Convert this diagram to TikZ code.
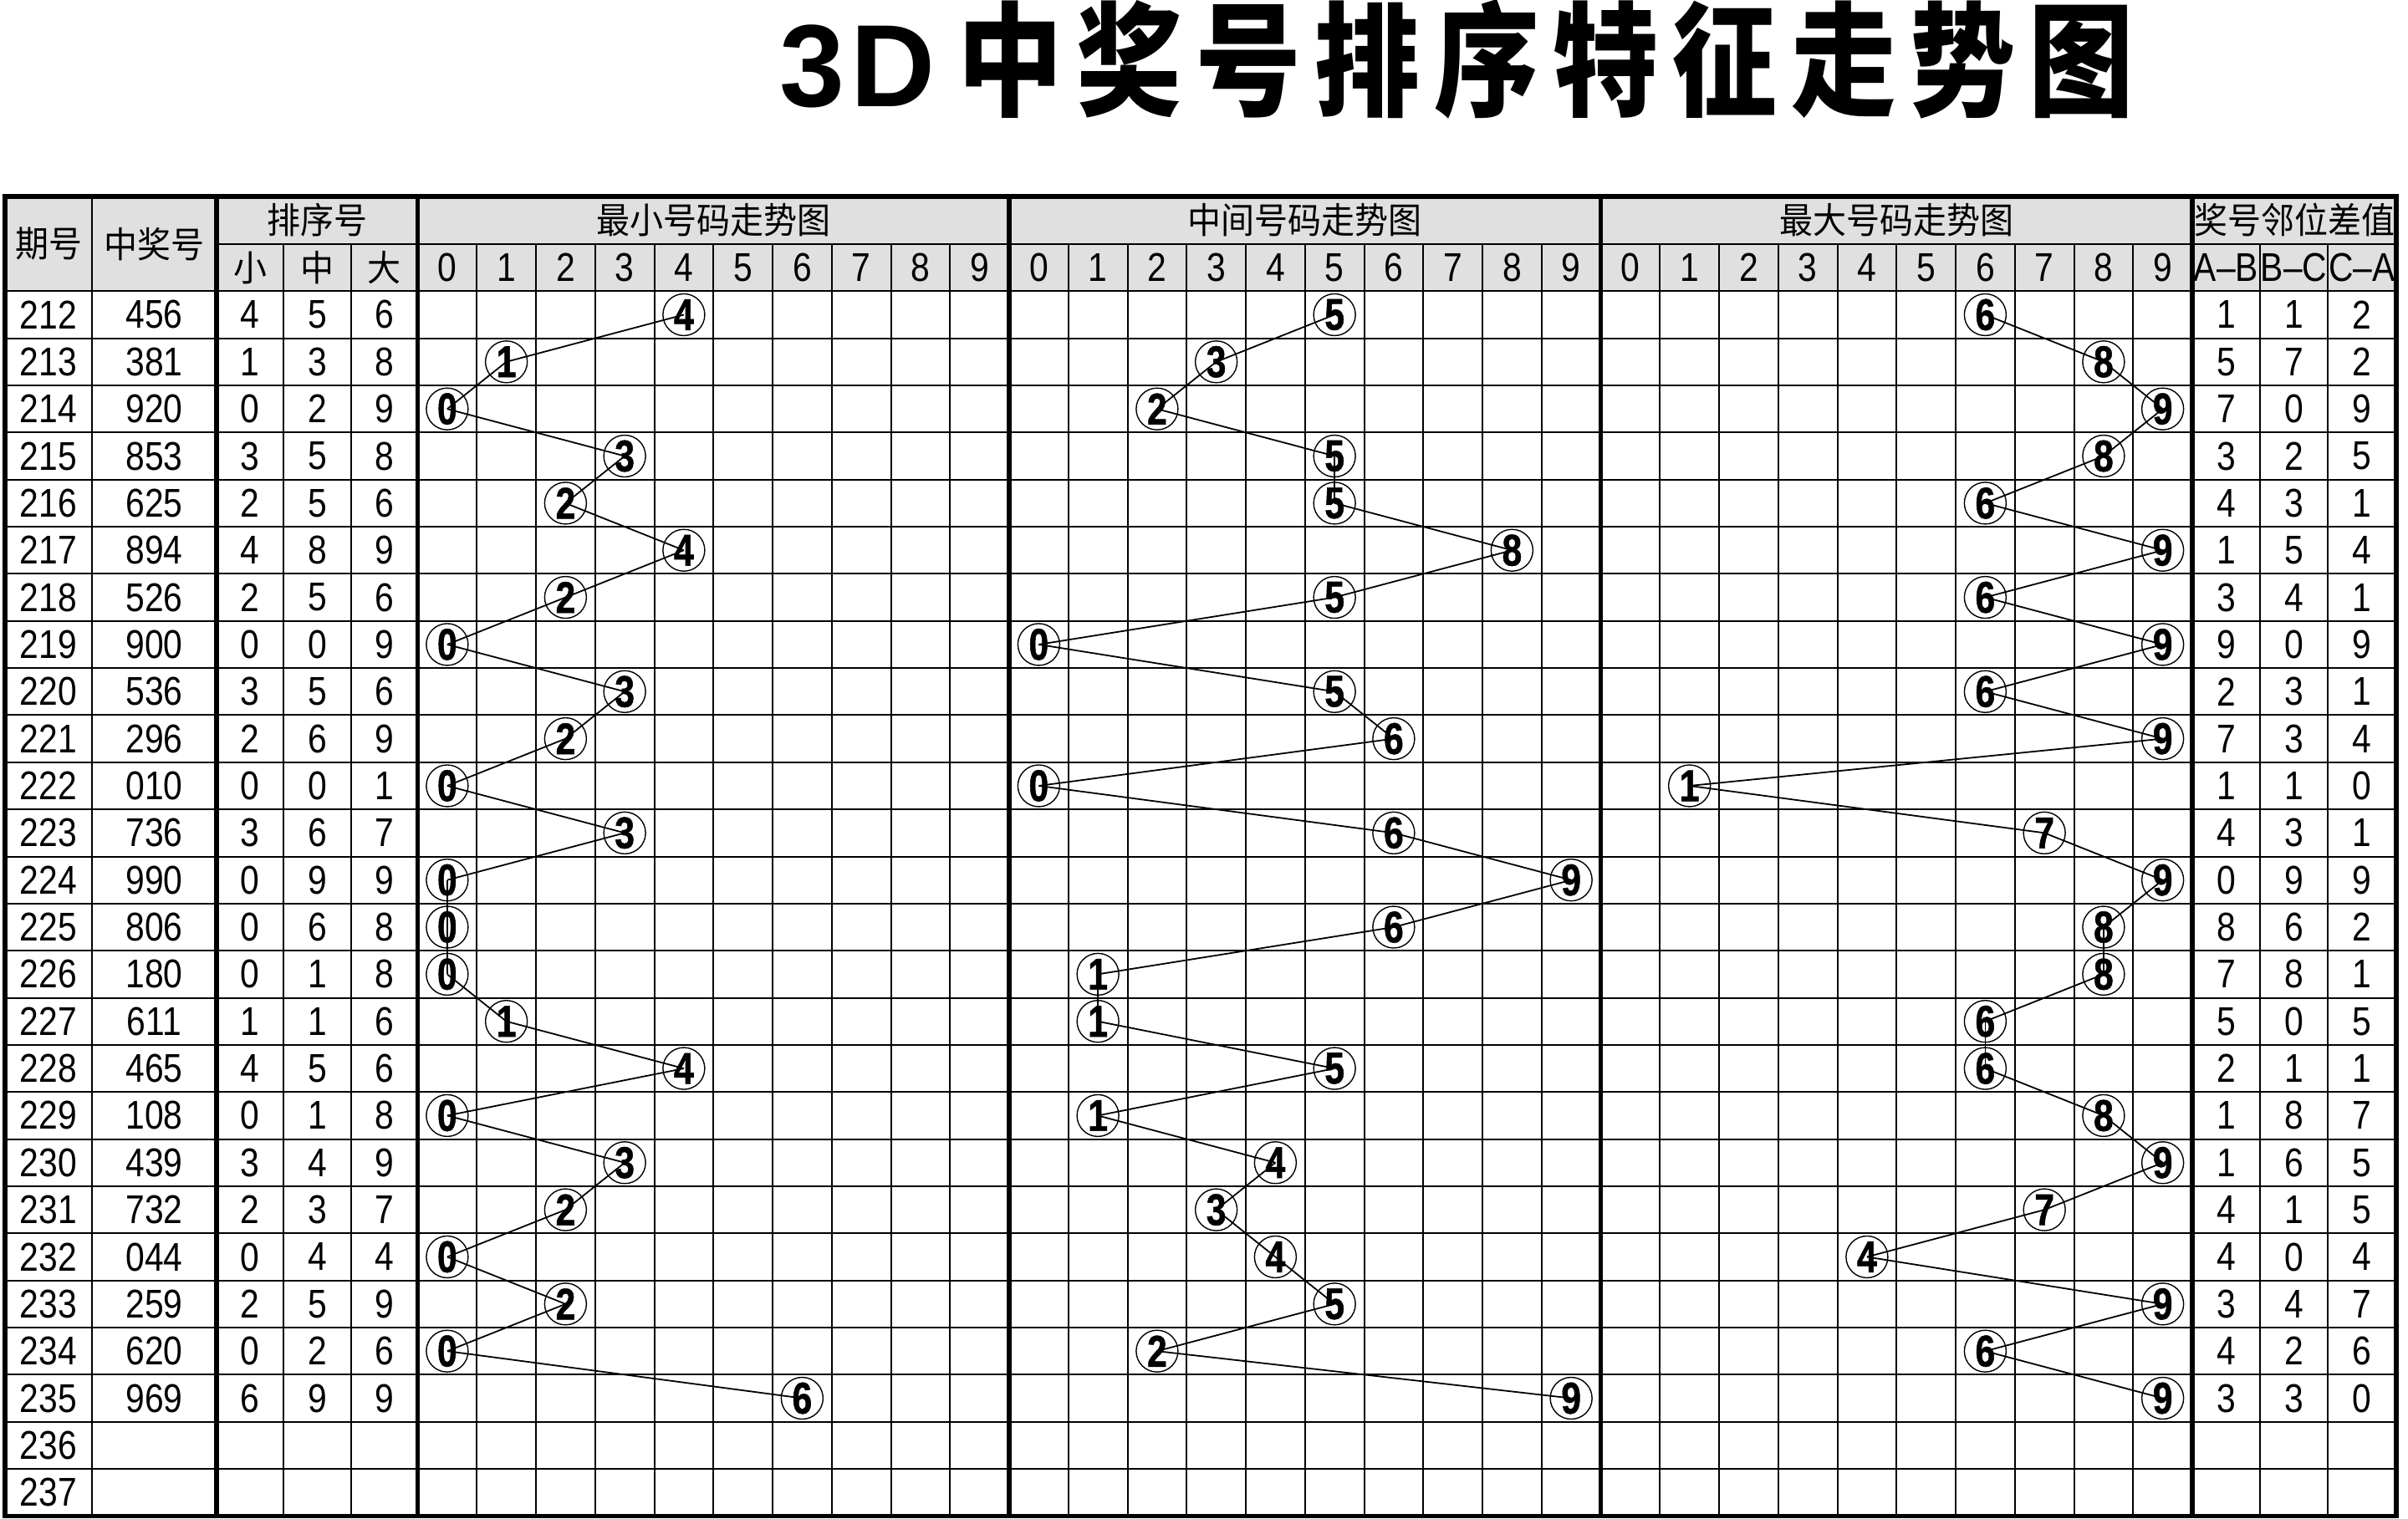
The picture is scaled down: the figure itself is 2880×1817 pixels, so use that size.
\documentclass[tikz,border=0pt]{standalone}
\usepackage{fontspec}
\setmainfont{Liberation Sans}[FakeStretch=0.85]
\newfontfamily\markfont{Liberation Sans}[FakeStretch=0.8,FakeBold=1]
\newfontfamily\cjkfont{Noto Sans CJK SC}[FakeStretch=0.93]
\newfontfamily\titlecjk{Noto Sans CJK SC}[FakeStretch=0.85,LetterSpace=11.2]
\newfontfamily\titlelat{Liberation Sans}[LetterSpace=5]
\definecolor{hdrgray}{RGB}{224,224,224}
\pgfdeclarelayer{gridlayer}
\pgfdeclarelayer{connlayer}
\pgfsetlayers{gridlayer,connlayer,main}
\def\gxA{6}\def\gxB{110}\def\gxC{259}\def\gxD{339}\def\gxE{420}\def\gxF{499.5}
\def\gW{70.75}\def\gxG{2622}\def\gdA{2703}\def\gdB{2784}\def\gdC{2866}
\def\gyT{235}\def\gyA{292}\def\gyH{348.3}\def\gRH{56.35}\def\gyB{1813.4}
\begin{document}
\begin{tikzpicture}[x=0.25pt,y=-0.25pt,
  gthin/.style={line width=0.5pt,line cap=rect},
  gthick/.style={line width=1.3pt,line cap=rect},
  conn/.style={line width=0.45pt},
  marker/.style={circle,draw,line width=0.35pt,minimum size=12.5pt,inner sep=0pt,
    font=\markfont\fontsize{13.3pt}{14pt}\bfseries},
  cell/.style={inner sep=0pt,font=\fontsize{12pt}{14pt}\selectfont},
  hcell/.style={inner sep=0pt,font=\fontsize{10.75pt}{12pt}\cjkfont}]
\useasboundingbox (0,0) rectangle (2880,1817);

% title
\node[inner sep=0pt,anchor=base west] (title) at (932,128)
  {\fontsize{35pt}{37pt}\titlelat\bfseries 3D\hspace{6.7pt}\fontsize{37pt}{39pt}\titlecjk\bfseries 中奖号排序特征走势图};

% grid
\begin{pgfonlayer}{gridlayer}
\fill[hdrgray] (\gxA,\gyT) rectangle (\gdC,\gyH);
\draw[gthin] (\gxC,\gyA) -- (\gdC,\gyA);
\foreach \r in {0,...,25} \draw[gthin] (\gxA,{\gyH+\r*\gRH}) -- (\gdC,{\gyH+\r*\gRH});
\draw[gthin] (\gxB,\gyT) -- (\gxB,\gyB);
\foreach \xx in {\gxD,\gxE,\gdA,\gdB} \draw[gthin] (\xx,\gyA) -- (\xx,\gyB);
\foreach \j in {1,...,9,11,12,...,19,21,22,...,29}
  \draw[gthin] ({\gxF+\j*\gW},\gyA) -- ({\gxF+\j*\gW},\gyB);
\foreach \j in {10,20}
  \draw[gthick] ({\gxF+\j*\gW},\gyT) -- ({\gxF+\j*\gW},\gyB);
\foreach \xx in {\gxC,\gxF,\gxG} \draw[gthick] (\xx,\gyT) -- (\xx,\gyB);
\draw[gthick] (\gxA,\gyT) rectangle (\gdC,\gyB);
\end{pgfonlayer}

% header
\node[hcell] (hqh) at ({(\gxA+\gxB)/2},{(\gyT+\gyH)/2}) {期号};
\node[hcell] (hzj) at ({(\gxB+\gxC)/2},{(\gyT+\gyH)/2}) {中奖号};
\node[hcell] (hpx) at ({(\gxC+\gxF)/2},{(\gyT+\gyA)/2}) {排序号};
\node[hcell] (hx) at ({(\gxC+\gxD)/2},{(\gyA+\gyH)/2}) {小};
\node[hcell] (hz) at ({(\gxD+\gxE)/2},{(\gyA+\gyH)/2}) {中};
\node[hcell] (hd) at ({(\gxE+\gxF)/2},{(\gyA+\gyH)/2}) {大};
\node[hcell] (hmin) at ({\gxF+5*\gW},{(\gyT+\gyA)/2}) {最小号码走势图};
\node[hcell] (hmid) at ({\gxF+15*\gW},{(\gyT+\gyA)/2}) {中间号码走势图};
\node[hcell] (hmax) at ({\gxF+25*\gW},{(\gyT+\gyA)/2}) {最大号码走势图};
\node[hcell] (hdif) at ({(\gxG+\gdC)/2},{(\gyT+\gyA)/2}) {奖号邻位差值};
\foreach \k in {0,1,2} \foreach \j in {0,...,9}
  \node[cell] (h\k\j) at ({\gxF+(10*\k+\j+0.5)*\gW},{(\gyA+\gyH)/2}) {\j};
\node[cell] (hab) at ({(\gxG+\gdA)/2},{(\gyA+\gyH)/2}) {A–B};
\node[cell] (hbc) at ({(\gdA+\gdB)/2},{(\gyA+\gyH)/2}) {B–C};
\node[cell] (hca) at ({(\gdB+\gdC)/2},{(\gyA+\gyH)/2}) {C–A};

% body
\foreach \pp/\nn/\vA/\vB/\vC/\dA/\dB/\dC [count=\r from 0] in {
212/456/4/5/6/1/1/2,
213/381/1/3/8/5/7/2,
214/920/0/2/9/7/0/9,
215/853/3/5/8/3/2/5,
216/625/2/5/6/4/3/1,
217/894/4/8/9/1/5/4,
218/526/2/5/6/3/4/1,
219/900/0/0/9/9/0/9,
220/536/3/5/6/2/3/1,
221/296/2/6/9/7/3/4,
222/010/0/0/1/1/1/0,
223/736/3/6/7/4/3/1,
224/990/0/9/9/0/9/9,
225/806/0/6/8/8/6/2,
226/180/0/1/8/7/8/1,
227/611/1/1/6/5/0/5,
228/465/4/5/6/2/1/1,
229/108/0/1/8/1/8/7,
230/439/3/4/9/1/6/5,
231/732/2/3/7/4/1/5,
232/044/0/4/4/4/0/4,
233/259/2/5/9/3/4/7,
234/620/0/2/6/4/2/6,
235/969/6/9/9/3/3/0}{
  \pgfmathsetmacro\yy{\gyH+(\r+0.5)*\gRH}
  \node[cell] (p\pp) at ({(\gxA+\gxB)/2},\yy) {\pp};
  \node[cell] (n\pp) at ({(\gxB+\gxC)/2},\yy) {\nn};
  \node[cell] (a\pp) at ({(\gxC+\gxD)/2},\yy) {\vA};
  \node[cell] (b\pp) at ({(\gxD+\gxE)/2},\yy) {\vB};
  \node[cell] (c\pp) at ({(\gxE+\gxF)/2},\yy) {\vC};
  \node[cell] (x\pp) at ({(\gxG+\gdA)/2},\yy) {\dA};
  \node[cell] (y\pp) at ({(\gdA+\gdB)/2},\yy) {\dB};
  \node[cell] (z\pp) at ({(\gdB+\gdC)/2},\yy) {\dC};
  \node[marker] (s\pp) at ({\gxF+(\vA+0.5)*\gW},\yy) {\vA};
  \node[marker] (m\pp) at ({\gxF+(10+\vB+0.5)*\gW},\yy) {\vB};
  \node[marker] (l\pp) at ({\gxF+(20+\vC+0.5)*\gW},\yy) {\vC};
}
\node[cell] (p236) at ({(\gxA+\gxB)/2},{\gyH+24.5*\gRH}) {236};
\node[cell] (p237) at ({(\gxA+\gxB)/2},{\gyH+25.5*\gRH}) {237};

% connectors
\begin{pgfonlayer}{connlayer}
\foreach \pp [evaluate=\pp as \qq using int(\pp+1)] in {212,...,234} {
  \draw[conn] (s\pp.center) -- (s\qq.center);
  \draw[conn] (m\pp.center) -- (m\qq.center);
  \draw[conn] (l\pp.center) -- (l\qq.center);
}
\end{pgfonlayer}
\end{tikzpicture}
\end{document}
